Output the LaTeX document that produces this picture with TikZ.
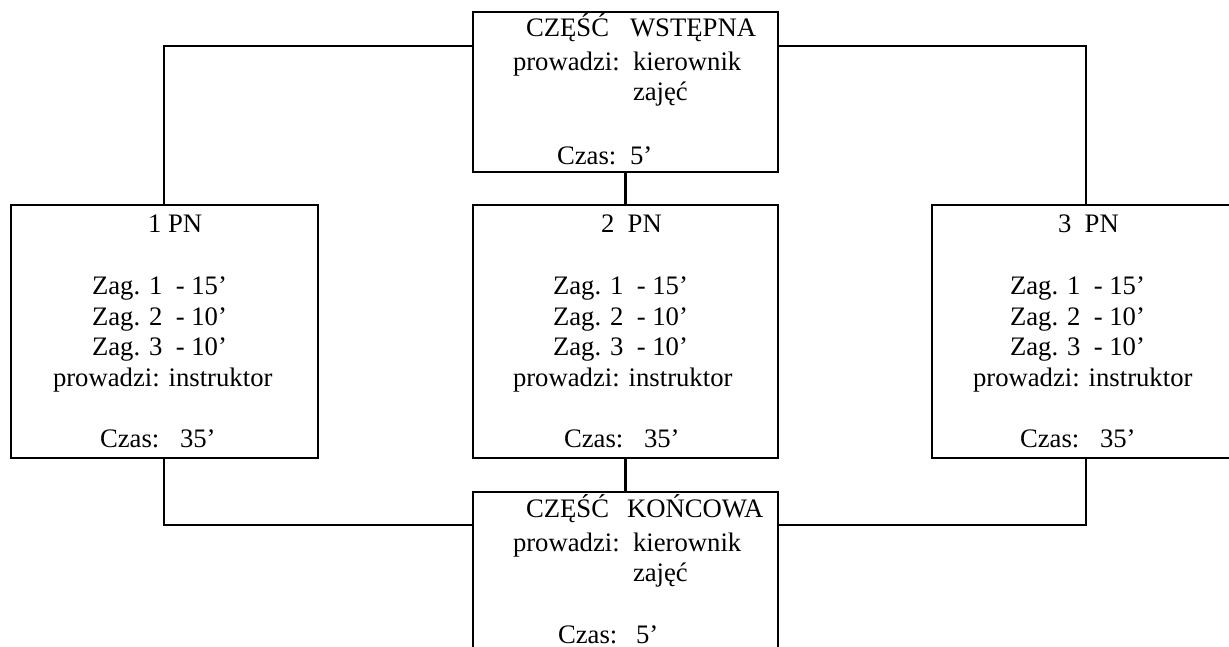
\documentclass[tikz,border=0pt]{standalone}
\usepackage{fontspec}
\setmainfont{Liberation Serif}
\begin{document}
\begin{tikzpicture}[x=1pt,y=-1pt,
  box/.style={draw, line width=2.2pt, rectangle, inner sep=0pt, outer sep=0pt, anchor=north west},
  link/.style={line width=2.2pt},
  txt/.style={anchor=base west, inner sep=0pt, outer sep=0pt, font=\fontsize{26.7}{30.7}\selectfont}
]
\useasboundingbox (0,0) rectangle (1229,647);
\clip (0,0) rectangle (1229,647);
\fill[white] (0,0) rectangle (1229,647);

% boxes
\node[box, minimum width=305pt, minimum height=160pt] (top) at (473,12) {};
\node[box, minimum width=307pt, minimum height=253pt] (b1) at (11,205) {};
\node[box, minimum width=305pt, minimum height=253pt] (b2) at (473,205) {};
\node[box, minimum width=307pt, minimum height=253pt] (b3) at (932,205) {};
\node[box, minimum width=305pt, minimum height=162pt] (bot) at (473,492) {};

% connector corners
\coordinate (tl) at (164,46);
\coordinate (tr) at (1086,46);
\coordinate (bl) at (164,525);
\coordinate (br) at (1086,525);

\draw[link] (top.west |- tl) -- (tl) -- (tl |- b1.north);
\draw[link] (top.east |- tr) -- (tr) -- (tr |- b3.north);
\draw[link] (top.south) -- (b2.north);
\draw[link] (b1.south -| bl) -- (bl) -- (bl -| bot.west);
\draw[link] (b3.south -| br) -- (br) -- (br -| bot.east);
\draw[link] (b2.south) -- (bot.north);

% top box text
\node[txt] (t1a) at (526,37) {CZĘŚĆ};
\node[txt] (t1b) at (630,37) {WSTĘPNA};
\node[txt] (t2a) at (513,71) {prowadzi:};
\node[txt] (t2b) at (633,71) {kierownik};
\node[txt] (t3) at (633,101) {zajęć};
\node[txt] (t4a) at (557,165) {Czas:};
\node[txt] (t4b) at (630,165) {5’};

% bottom box text
\node[txt] (u1a) at (526,517) {CZĘŚĆ};
\node[txt] (u1b) at (627,517) {KOŃCOWA};
\node[txt] (u2a) at (513,551) {prowadzi:};
\node[txt] (u2b) at (633,551) {kierownik};
\node[txt] (u3) at (633,581) {zajęć};
\node[txt] (u4a) at (558,643) {Czas:};
\node[txt] (u4b) at (636,643) {5’};

% box 1
\node[txt] (p1) at (148,233) {1 PN};
\node[txt] (p1z1) at (92,294.4) {Zag. 1\ \ - 15’};
\node[txt] (p1z2) at (92,325.1) {Zag. 2\ \ - 10’};
\node[txt] (p1z3) at (92,355.8) {Zag. 3\ \ - 10’};
\node[txt] (p1p) at (53,386.5) {prowadzi: instruktor};
\node[txt] (p1c) at (100,447.9) {Czas:};
\node[txt] (p1t) at (180,447.9) {35’};

% box 2
\node[txt] (p2) at (601,233) {2\ \ PN};
\node[txt] (p2z1) at (553,294.4) {Zag. 1\ \ - 15’};
\node[txt] (p2z2) at (553,325.1) {Zag. 2\ \ - 10’};
\node[txt] (p2z3) at (553,355.8) {Zag. 3\ \ - 10’};
\node[txt] (p2p) at (513,386.5) {prowadzi: instruktor};
\node[txt] (p2c) at (564,447.9) {Czas:};
\node[txt] (p2t) at (644,447.9) {35’};

% box 3
\node[txt] (p3) at (1058,233) {3\ \ PN};
\node[txt] (p3z1) at (1010,294.4) {Zag. 1\ \ - 15’};
\node[txt] (p3z2) at (1010,325.1) {Zag. 2\ \ - 10’};
\node[txt] (p3z3) at (1010,355.8) {Zag. 3\ \ - 10’};
\node[txt] (p3p) at (973,386.5) {prowadzi: instruktor};
\node[txt] (p3c) at (1020,447.9) {Czas:};
\node[txt] (p3t) at (1100,447.9) {35’};
\end{tikzpicture}
\end{document}
